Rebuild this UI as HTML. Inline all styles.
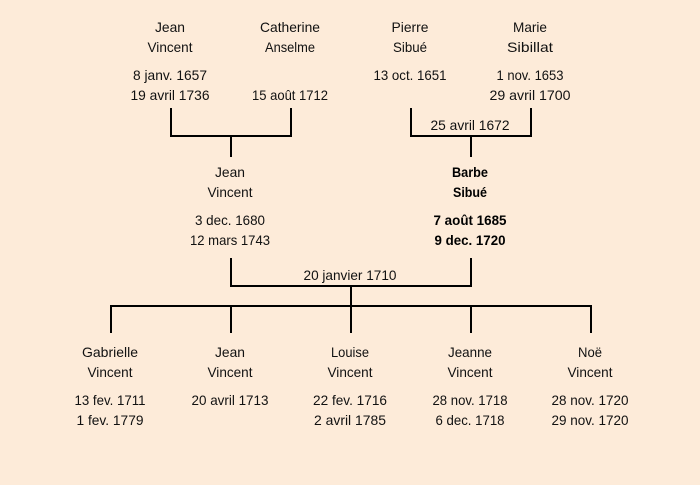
<!DOCTYPE html>
<html><head><meta charset="utf-8"><style>
html,body{margin:0;padding:0;background:#fdebd9;width:700px;height:485px;overflow:hidden}
svg{display:block}
text{font-family:"Liberation Sans",sans-serif;font-size:14px;fill:#111;text-anchor:middle}
.b{font-weight:bold;fill:#000}
</style></head><body>
<svg width="700" height="485" viewBox="0 0 700 485" xmlns="http://www.w3.org/2000/svg">
<rect width="700" height="485" fill="#fdebd9"/>
<g fill="none" stroke="#000" stroke-width="2">
<path d="M171 108V136H291V108M231 136V157"/>
<path d="M411 108V136H531V108M471 136V157"/>
<path d="M231 258V286H471V258M351 286V306"/>
<path d="M111 333V306H591V333M231 306V333M351 306V333M471 306V333"/>
</g>
<g lengthAdjust="spacingAndGlyphs">
<text x="170" y="32" textLength="30" lengthAdjust="spacingAndGlyphs">Jean</text>
<text x="170" y="52" textLength="45" lengthAdjust="spacingAndGlyphs">Vincent</text>
<text x="170" y="80" textLength="74" lengthAdjust="spacingAndGlyphs">8 janv. 1657</text>
<text x="170" y="100" textLength="79" lengthAdjust="spacingAndGlyphs">19 avril 1736</text>
<text x="290" y="32" textLength="60" lengthAdjust="spacingAndGlyphs">Catherine</text>
<text x="290" y="52" textLength="50" lengthAdjust="spacingAndGlyphs">Anselme</text>
<text x="290" y="100" textLength="76" lengthAdjust="spacingAndGlyphs">15 août 1712</text>
<text x="410" y="32" textLength="37" lengthAdjust="spacingAndGlyphs">Pierre</text>
<text x="410" y="52" textLength="34" lengthAdjust="spacingAndGlyphs">Sibué</text>
<text x="410" y="80" textLength="73" lengthAdjust="spacingAndGlyphs">13 oct. 1651</text>
<text x="530" y="32" textLength="34" lengthAdjust="spacingAndGlyphs">Marie</text>
<text x="530" y="52" textLength="46" lengthAdjust="spacingAndGlyphs">Sibillat</text>
<text x="530" y="80" textLength="67" lengthAdjust="spacingAndGlyphs">1 nov. 1653</text>
<text x="530" y="100" textLength="81" lengthAdjust="spacingAndGlyphs">29 avril 1700</text>
<text x="470" y="130" textLength="79" lengthAdjust="spacingAndGlyphs">25 avril 1672</text>

<text x="230" y="177" textLength="30" lengthAdjust="spacingAndGlyphs">Jean</text>
<text x="230" y="197" textLength="45" lengthAdjust="spacingAndGlyphs">Vincent</text>
<text x="230" y="225" textLength="70" lengthAdjust="spacingAndGlyphs">3 dec. 1680</text>
<text x="230" y="245" textLength="80" lengthAdjust="spacingAndGlyphs">12 mars 1743</text>
<text class="b" x="470" y="177" textLength="36" lengthAdjust="spacingAndGlyphs">Barbe</text>
<text class="b" x="470" y="197" textLength="34" lengthAdjust="spacingAndGlyphs">Sibué</text>
<text class="b" x="470" y="225" textLength="73" lengthAdjust="spacingAndGlyphs">7 août 1685</text>
<text class="b" x="470" y="245" textLength="71" lengthAdjust="spacingAndGlyphs">9 dec. 1720</text>
<text x="350" y="280" textLength="93" lengthAdjust="spacingAndGlyphs">20 janvier 1710</text>

<text x="110" y="357" textLength="56" lengthAdjust="spacingAndGlyphs">Gabrielle</text>
<text x="110" y="377" textLength="45" lengthAdjust="spacingAndGlyphs">Vincent</text>
<text x="110" y="405" textLength="71" lengthAdjust="spacingAndGlyphs">13 fev. 1711</text>
<text x="110" y="425" textLength="67" lengthAdjust="spacingAndGlyphs">1 fev. 1779</text>
<text x="230" y="357" textLength="30" lengthAdjust="spacingAndGlyphs">Jean</text>
<text x="230" y="377" textLength="45" lengthAdjust="spacingAndGlyphs">Vincent</text>
<text x="230" y="405" textLength="77" lengthAdjust="spacingAndGlyphs">20 avril 1713</text>
<text x="350" y="357" textLength="38" lengthAdjust="spacingAndGlyphs">Louise</text>
<text x="350" y="377" textLength="45" lengthAdjust="spacingAndGlyphs">Vincent</text>
<text x="350" y="405" textLength="74" lengthAdjust="spacingAndGlyphs">22 fev. 1716</text>
<text x="350" y="425" textLength="72" lengthAdjust="spacingAndGlyphs">2 avril 1785</text>
<text x="470" y="357" textLength="44" lengthAdjust="spacingAndGlyphs">Jeanne</text>
<text x="470" y="377" textLength="45" lengthAdjust="spacingAndGlyphs">Vincent</text>
<text x="470" y="405" textLength="75" lengthAdjust="spacingAndGlyphs">28 nov. 1718</text>
<text x="470" y="425" textLength="69" lengthAdjust="spacingAndGlyphs">6 dec. 1718</text>
<text x="590" y="357" textLength="24" lengthAdjust="spacingAndGlyphs">Noë</text>
<text x="590" y="377" textLength="45" lengthAdjust="spacingAndGlyphs">Vincent</text>
<text x="590" y="405" textLength="77" lengthAdjust="spacingAndGlyphs">28 nov. 1720</text>
<text x="590" y="425" textLength="77" lengthAdjust="spacingAndGlyphs">29 nov. 1720</text>
</g>
</svg>
</body></html>
